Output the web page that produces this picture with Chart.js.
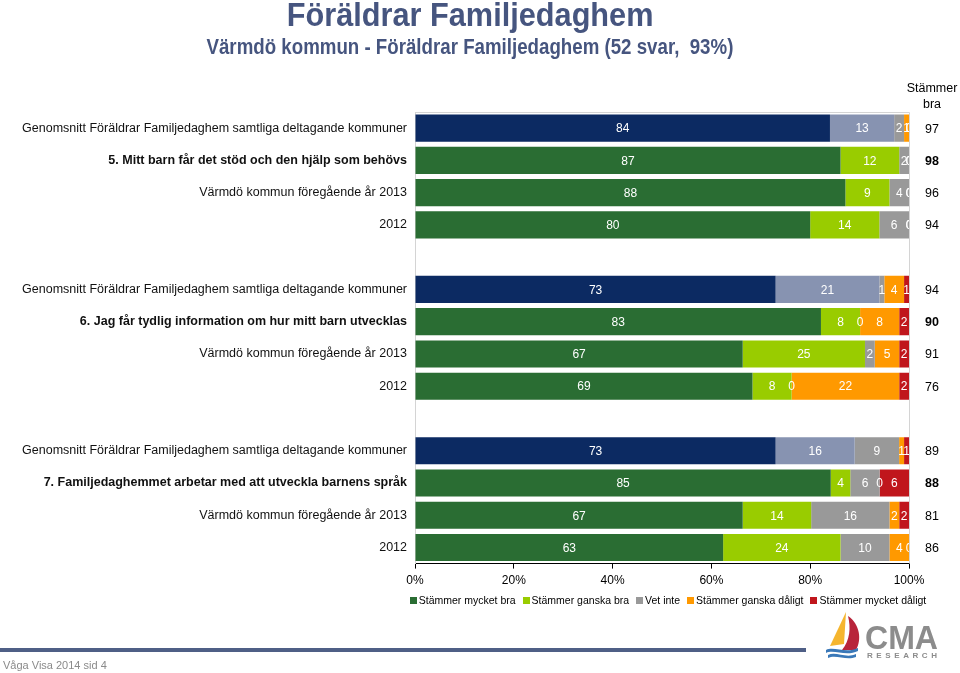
<!DOCTYPE html>
<html><head><meta charset="utf-8">
<script src="https://cdn.jsdelivr.net/npm/chart.js@4/dist/chart.umd.min.js"></script>
<style>
html,body{margin:0;padding:0;background:#fff;width:960px;height:673px;overflow:hidden;font-family:"Liberation Sans",Arial,sans-serif;}
#wrap{position:absolute;left:0;top:0;width:960px;height:673px;}
.t1,.t2{position:absolute;left:0;width:940px;text-align:center;font-family:"Liberation Sans",Arial,sans-serif;font-weight:bold;color:#46557f;white-space:pre;}
.t1{top:-4px;font-size:33px;}
.t2{top:34px;font-size:22px;}
.t1 span,.t2 span{display:inline-block;transform-origin:center;}
.t1 span{transform:scaleX(0.93);}
.t2 span{transform:scaleX(0.85);}
.foot{position:absolute;left:0;top:648px;width:806px;height:4px;background:#4f5f86;}
.foottxt{position:absolute;left:3px;top:659px;font-size:11px;color:#8a8a8a;}
#logo{position:absolute;left:820px;top:606px;}
</style></head>
<body>
<div id="wrap">
<canvas id="c" width="960" height="673"></canvas>
<div class="t1"><span>Föräldrar Familjedaghem</span></div>
<div class="t2"><span>Värmdö kommun - Föräldrar Familjedaghem (52 svar,  93%)</span></div>
<div class="foot"></div>
<div class="foottxt">Våga Visa 2014 sid 4</div>
<svg id="logo" width="130" height="56" viewBox="0 0 130 56">
  <path d="M26 6 L10 40 L24 38 Z" fill="#f5b52e"/>
  <path d="M28 10 C40 18 42 34 36 44 L22 44 C30 34 31 22 28 10 Z" fill="#b8243a"/>
  <path d="M6 44 C14 40 26 48 38 42 L38 45 C26 51 14 43 6 47 Z" fill="#3a78b8"/>
  <path d="M8 49 C16 45 26 53 36 48 L36 51 C26 55 16 48 8 52 Z" fill="#3a78b8"/>
  <text x="45" y="43" font-family="Liberation Sans, Arial, sans-serif" font-weight="bold" font-size="33" textLength="73" lengthAdjust="spacingAndGlyphs" fill="#8c8c8c">CMA</text>
  <text x="47" y="52" font-family="Liberation Sans, Arial, sans-serif" font-weight="bold" font-size="8" textLength="70" lengthAdjust="spacing" fill="#8c8c8c">RESEARCH</text>
</svg>
</div>
<script>
const categories = [
  "Genomsnitt Föräldrar Familjedaghem samtliga deltagande kommuner",
  "5. Mitt barn får det stöd och den hjälp som behövs",
  "Värmdö kommun föregående år 2013",
  "2012",
  "",
  "Genomsnitt Föräldrar Familjedaghem samtliga deltagande kommuner",
  "6. Jag får tydlig information om hur mitt barn utvecklas",
  "Värmdö kommun föregående år 2013",
  "2012",
  "",
  "Genomsnitt Föräldrar Familjedaghem samtliga deltagande kommuner",
  "7. Familjedaghemmet arbetar med att utveckla barnens språk",
  "Värmdö kommun föregående år 2013",
  "2012"
];
const averageRows = [0, 5, 10];
const questionRows = [1, 6, 11];
const seriesNames = ["Stämmer mycket bra","Stämmer ganska bra","Vet inte","Stämmer ganska dåligt","Stämmer mycket dåligt"];
const mycketBra    = [84, 87, 88, 80, null, 73, 83, 67, 69, null, 73, 85, 67, 63];
const ganskaBra    = [13, 12,  9, 14, null, 21,  8, 25,  8, null, 16,  4, 14, 24];
const vetInte      = [ 2,  2,  4,  6, null,  1,  0,  2,  0, null,  9,  6, 16, 10];
const ganskaDaligt = [ 1,  0,  0,  0, null,  4,  8,  5, 22, null,  1,  0,  2,  4];
const mycketDaligt = [ 0,  0,  0,  0, null,  1,  2,  2,  2, null,  1,  6,  2,  0];
const stammerBra   = [97, 98, 96, 94, null, 94, 90, 91, 76, null, 89, 88, 81, 86];
const xTicks = [0, 20, 40, 60, 80, 100];

const C = {
  navy:"#0c2a62", blueGrey:"#8793b1", green:"#2a6d33", light:"#99cc00",
  grey:"#999999", orange:"#ff9900", red:"#c0161c"
};
const FONT = '"Liberation Sans", Arial, sans-serif';
const raw = [mycketBra, ganskaBra, vetInte, ganskaDaligt, mycketDaligt];
const rowSum = categories.map((_, i) => raw.every(s => s[i] == null) ? null : raw.reduce((a, s) => a + (s[i] || 0), 0));
const pct = s => s.map((v, i) => v == null ? null : v / rowSum[i] * 100);

const colorFns = [
  ctx => (ctx.dataIndex !== undefined && averageRows.includes(ctx.dataIndex)) ? C.navy : C.green,
  ctx => (ctx.dataIndex !== undefined && averageRows.includes(ctx.dataIndex)) ? C.blueGrey : C.light,
  C.grey, C.orange, C.red
];
const legendColors = [C.green, C.light, C.grey, C.orange, C.red];

const datasets = raw.map((s, k) => ({
  label: seriesNames[k],
  data: pct(s),
  rawValues: s,
  backgroundColor: colorFns[k],
  borderWidth: 0,
  barPercentage: 0.84,
  categoryPercentage: 1.0
}));

const labelPlugin = {
  id: 'labels',
  afterDatasetsDraw(chart) {
    const ctx = chart.ctx, ca = chart.chartArea;
    ctx.save();
    ctx.beginPath(); ctx.rect(ca.left, ca.top, ca.right - ca.left, ca.bottom - ca.top); ctx.clip();
    ctx.font = '12px ' + FONT;
    ctx.fillStyle = '#ffffff';
    ctx.textAlign = 'center'; ctx.textBaseline = 'middle';
    chart.data.datasets.forEach((ds, di) => {
      const meta = chart.getDatasetMeta(di);
      meta.data.forEach((el, i) => {
        const v = ds.rawValues[i];
        if (v == null) return;
        ctx.fillText(String(v), (el.x + el.base) / 2, el.y + 1);
      });
    });
    ctx.restore();
    // plot-area border (top / right)
    ctx.save();
    ctx.strokeStyle = '#d4d4d4'; ctx.lineWidth = 1;
    ctx.beginPath();
    ctx.moveTo(ca.left, ca.top + 0.5); ctx.lineTo(ca.right + 0.5, ca.top + 0.5); ctx.lineTo(ca.right + 0.5, ca.bottom);
    ctx.stroke();
    ctx.restore();
    // "Stämmer bra" column
    const y = chart.scales.y;
    ctx.save();
    ctx.fillStyle = '#000'; ctx.textAlign = 'center'; ctx.textBaseline = 'middle';
    ctx.font = '12.5px ' + FONT;
    ctx.fillText('Stämmer', 932, 89);
    ctx.fillText('bra', 932, 105);
    stammerBra.forEach((v, i) => {
      if (v == null) return;
      ctx.font = (questionRows.includes(i) ? 'bold ' : '') + '12.5px ' + FONT;
      ctx.fillText(String(v), 932, y.getPixelForValue(i) + 1);
    });
    ctx.restore();
    // legend
    ctx.save();
    ctx.font = '10.5px ' + FONT;
    ctx.textBaseline = 'middle'; ctx.textAlign = 'left';
    const box = 7, gapBT = 2, gapItem = 7, ly = 601;
    const widths = seriesNames.map(n => box + gapBT + ctx.measureText(n).width);
    const total = widths.reduce((a, b) => a + b, 0) + gapItem * (widths.length - 1);
    let lx = 668 - total / 2;
    seriesNames.forEach((n, i) => {
      ctx.fillStyle = legendColors[i];
      ctx.fillRect(Math.round(lx), ly - 4, box, box);
      ctx.fillStyle = '#000';
      ctx.fillText(n, lx + box + gapBT, ly);
      lx += widths[i] + gapItem;
    });
    ctx.restore();
  }
};

new Chart(document.getElementById('c'), {
  type: 'bar',
  data: { labels: categories, datasets },
  plugins: [labelPlugin],
  options: {
    indexAxis: 'y',
    responsive: false,
    animation: false,
    layout: { padding: { left: 0, right: 51, top: 112, bottom: 80 } },
    scales: {
      x: {
        stacked: true, min: 0, max: 100,
        afterBuildTicks: s => { s.ticks = xTicks.map(v => ({ value: v })); },
        ticks: { callback: v => v + '%', color: '#000', font: { size: 12, family: FONT }, padding: 5, maxRotation: 0 },
        grid: { drawOnChartArea: false, color: '#000', tickLength: 5 },
        border: { color: '#000', width: 1 }
      },
      y: {
        stacked: true,
        afterFit: s => { s.width = 415; },
        ticks: {
          color: '#111', padding: 8, autoSkip: false,
          font: c => ({ size: 12.5, family: FONT, weight: questionRows.includes(c.index) ? 'bold' : 'normal' })
        },
        grid: { display: false, drawTicks: false },
        border: { color: '#d4d4d4', width: 1 }
      }
    },
    plugins: {
      tooltip: { enabled: false },
      legend: { display: false }
    }
  }
});
</script>
</body></html>
